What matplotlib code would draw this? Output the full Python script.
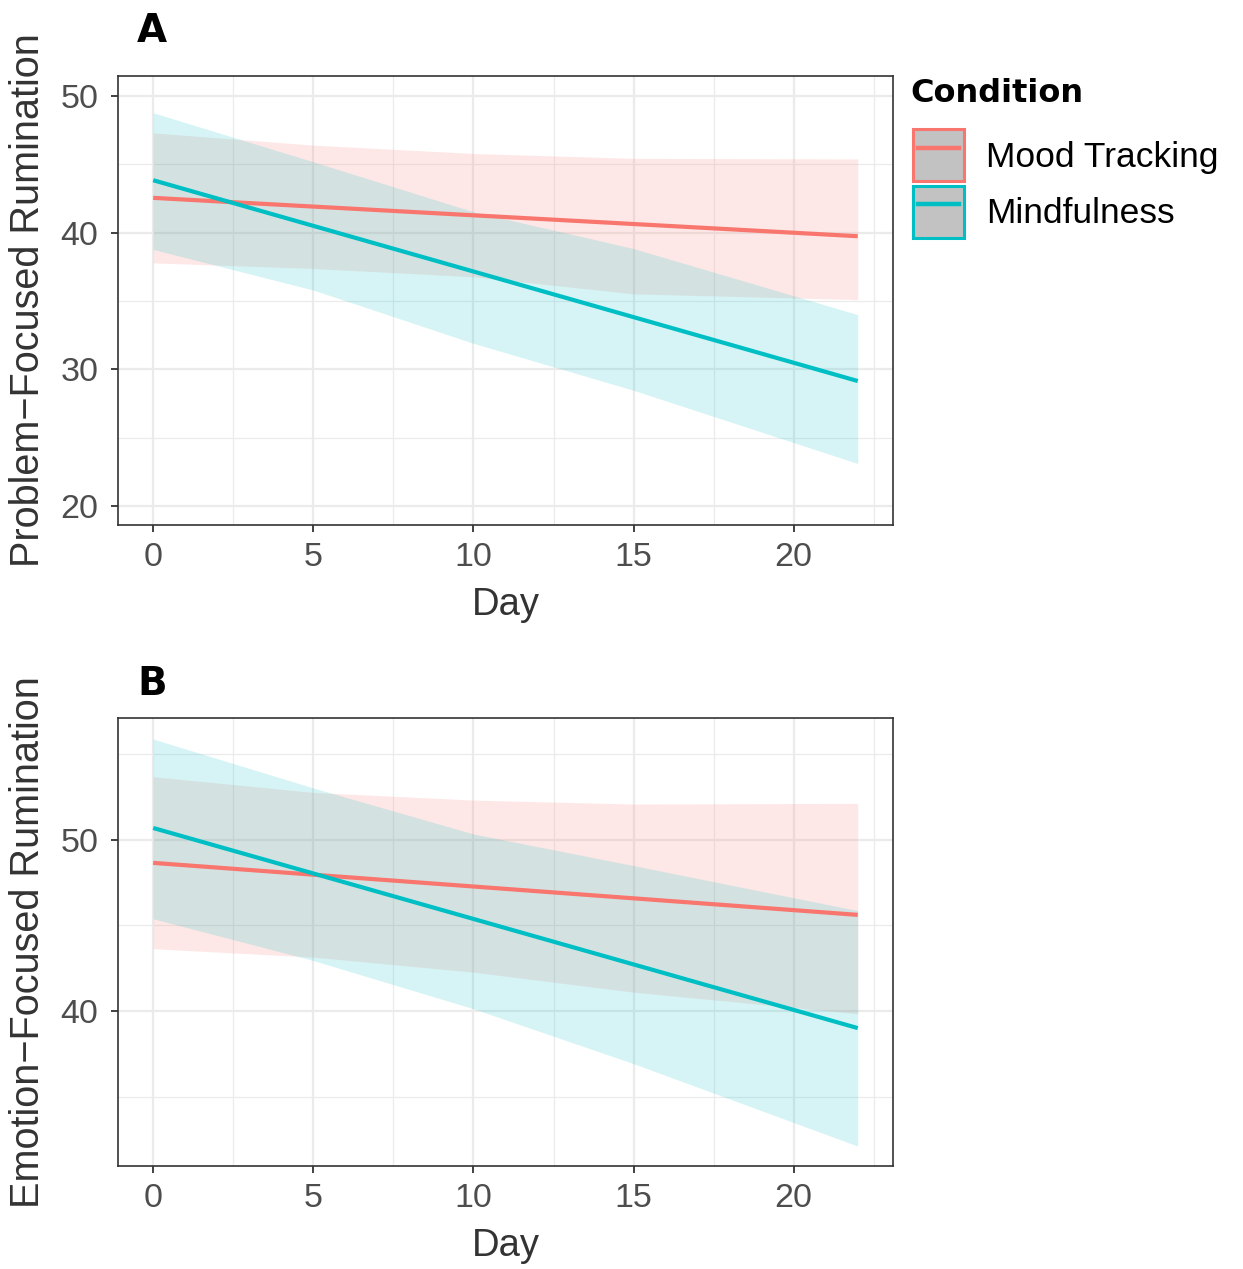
import matplotlib
matplotlib.use("Agg")
import matplotlib.pyplot as plt
from matplotlib.lines import Line2D
from matplotlib.patches import Patch
from matplotlib.legend_handler import HandlerLine2D

plt.rcParams['font.family'] = ['Liberation Sans', 'DejaVu Sans']

conditions = ["Mood Tracking", "Mindfulness"]
colors = ["#F8766D", "#00BFC4"]

line_days = [0, 22]
band_days = [0, 5, 10, 15, 22]

# panel A - problem-focused rumination
a_mood_fit = [42.55, 39.74]
a_mood_lo = [37.79, 37.38, 36.77, 35.52, 35.10]
a_mood_hi = [47.31, 46.41, 45.80, 45.44, 45.40]
a_mind_fit = [43.84, 29.14]
a_mind_lo = [38.77, 35.80, 31.90, 28.46, 23.10]
a_mind_hi = [48.78, 45.19, 41.53, 38.84, 34.00]

# panel B - emotion-focused rumination
b_mood_fit = [48.66, 45.62]
b_mood_lo = [43.64, 43.15, 42.27, 41.10, 39.84]
b_mood_hi = [53.70, 52.78, 52.33, 52.10, 52.14]
b_mind_fit = [50.70, 39.00]
b_mind_lo = [45.39, 42.95, 40.13, 36.92, 32.10]
b_mind_hi = [55.90, 53.04, 50.35, 48.50, 45.87]

x_ticks = [0, 5, 10, 15, 20]
x_minor = [2.5, 7.5, 12.5, 17.5, 22.5]

fig = plt.figure(figsize=(12.43, 12.69), dpi=100)
axA = fig.add_axes([0.0949, 0.5863, 0.6235, 0.3538])
axB = fig.add_axes([0.0949, 0.0812, 0.6235, 0.3530])


def draw_panel(ax, fits, los, his, ylabel, yticks, yminor, ylim):
    for fit, lo, hi, col in zip(fits, los, his, colors):
        ax.fill_between(band_days, lo, hi, color=col, alpha=0.16, lw=0, zorder=2)
        ax.plot(line_days, fit, color=col, lw=3, zorder=3, solid_capstyle='butt')
    ax.set_xlim(-1.1, 23.1)
    ax.set_ylim(*ylim)
    ax.set_xticks(x_ticks)
    ax.set_xticks(x_minor, minor=True)
    ax.set_yticks(yticks)
    ax.set_yticks(yminor, minor=True)
    ax.grid(True, which='major', color='#EBEBEB', lw=1.6, zorder=0)
    ax.grid(True, which='minor', color='#EBEBEB', lw=0.9, zorder=0)
    ax.set_axisbelow(True)
    for sp in ax.spines.values():
        sp.set_color('#333333')
        sp.set_linewidth(1.2)
    ax.tick_params(which='major', length=5, width=1.3, color='#333333',
                   labelsize=24.5, labelcolor='#4D4D4D', pad=7)
    ax.tick_params(axis='y', which='major', pad=9)
    ax.tick_params(which='minor', length=0)
    ax.set_xlabel('Day', fontsize=27.5, color='#333333', labelpad=10)
    ax.set_ylabel(ylabel, fontsize=28.5, color='#333333', labelpad=10)


draw_panel(axA, [a_mood_fit, a_mind_fit], [a_mood_lo, a_mind_lo], [a_mood_hi, a_mind_hi],
           'Problem\u2212Focused Rumination', [20, 30, 40, 50], [25, 35, 45], (18.6, 51.47))
draw_panel(axB, [b_mood_fit, b_mind_fit], [b_mood_lo, b_mind_lo], [b_mood_hi, b_mind_hi],
           'Emotion\u2212Focused Rumination', [40, 50], [35, 45, 55], (30.94, 57.13))

# panel tags
fig.text(152 / 1243, 1 - 31 / 1269, 'A', fontsize=28, fontweight='bold',
         family='DejaVu Sans', ha='center', va='center')
fig.text(152 / 1243, 1 - 684 / 1269, 'B', fontsize=28, fontweight='bold',
         family='DejaVu Sans', ha='center', va='center')

# legend (title drawn separately)
fig.text(910 / 1243, 1 - 93 / 1269, 'Condition', fontsize=23, fontweight='bold',
         family='DejaVu Sans', ha='left', va='center')
handles = [(Patch(facecolor='#C2C2C2', edgecolor=c, lw=2.2), Line2D([], [], color=c, lw=3.2))
           for c in colors]
leg = axA.legend(handles, conditions, loc='upper left',
                 bbox_to_anchor=(913 / 1243, 1 - 129 / 1269), bbox_transform=fig.transFigure,
                 frameon=False, fontsize=25.5, borderpad=0, borderaxespad=0,
                 handlelength=1.45, handleheight=1.9, handletextpad=0.62,
                 labelspacing=0.12,
                 handler_map={Line2D: HandlerLine2D(numpoints=2, marker_pad=0.15)})

fig.savefig('out.png', dpi=100)
